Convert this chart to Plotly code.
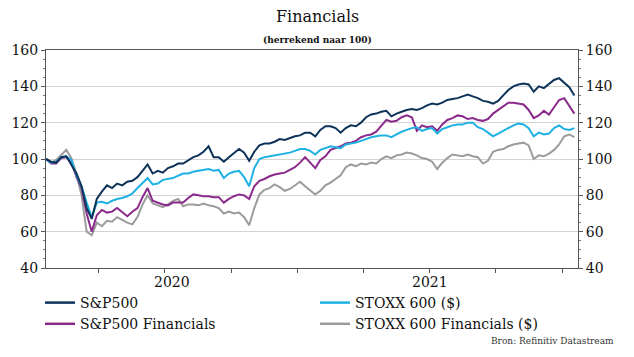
import pandas as pd
import plotly.graph_objects as go

dates = list(pd.date_range("2020-01-20", periods=104, freq="7D")) + [pd.Timestamp("2022-01-17")]

sp500 = [100, 98.5, 98, 101, 101.5, 97, 92, 85, 73, 67,
         78, 82, 85.5, 84, 86.5, 85.5, 87.5, 88, 90, 93.5,
         97, 92, 93.5, 92.5, 95, 96, 97.5, 97.5, 99.5, 101,
         102, 104, 107, 101, 101, 98.5, 101, 103, 105.5, 103.5,
         99, 104, 107.5, 108.5, 108.5, 109.5, 111, 110.5, 111.5, 112.5,
         113, 114.5, 114.5, 112.5, 116, 118, 118, 117, 114.5, 117,
         118.5, 118, 120, 123, 124.5, 125, 126, 126.5, 123.5, 125,
         126, 127, 127.5, 127, 128, 129.5, 130.5, 130, 131, 132.5,
         133, 133.5, 134.5, 135.5, 134.5, 133.5, 132, 131.5, 130.5, 132,
         135, 138, 140, 141, 141.5, 141, 137, 140, 139, 141.5,
         143.5, 144.5, 142, 139.5, 135]

stoxx600 = [100, 98, 98.5, 101, 101.5, 99.5, 91, 85, 76, 68,
            76, 76.5, 75.5, 77, 78, 78.5, 79.5, 81, 84, 86.5,
            89.5, 86, 86.5, 88.5, 89, 89.5, 90.8, 92, 92, 93,
            93.5, 94, 94.5, 93.5, 94, 89.5, 92, 93, 93.5, 90,
            85, 95, 100, 101, 101.5, 102, 102.5, 103, 103.5, 104.5,
            105.5, 105.5, 104.5, 102.5, 105, 106, 107, 106.5, 106, 108,
            108.5, 109, 110, 111, 112, 112.5, 113, 113, 112, 113.5,
            115, 116, 117, 117.5, 115.5, 116.5, 117, 114, 116.5, 117.5,
            118.5, 119, 119, 120, 120, 117.5, 116.5, 114.5, 112.5, 114,
            115.5, 117, 118.5, 119.5, 119, 117, 112.5, 114.5, 113.5, 114,
            117, 118.5, 116.5, 116, 117]

sp500_fin = [100, 97.5, 97.5, 100.5, 101, 98, 90, 84, 70, 60,
             69, 72, 70.5, 71, 73, 70.5, 68.5, 71, 73, 79,
             84, 77, 76, 75, 74.5, 76, 76, 76, 78.5, 80.5,
             80, 79.5, 79.5, 79, 79, 76, 78, 79.5, 80.5, 80,
             78, 85, 88, 89, 90.5, 91.5, 92, 92.5, 94, 95.5,
             98, 101, 98, 95, 99.5, 101.5, 105, 106, 107, 108.5,
             109, 110, 112, 113, 113.5, 115, 118, 121.5, 120.5, 121,
             123, 124, 123, 115.5, 118.5, 117.5, 118, 115.5, 119, 121.5,
             122.5, 124, 123.5, 122, 122.5, 121.5, 121, 122, 125, 127,
             129.5, 131, 131, 130.5, 130, 127, 122.5, 124, 126.5, 124.5,
             128.5, 132.5, 133.5, 129.5, 125]

stoxx600_fin = [100, 98, 99.5, 102.5, 105, 100.5, 91.5, 80, 60, 58,
                65, 63, 66, 65.5, 68, 66.5, 65, 64, 68, 75,
                80, 75.5, 74.5, 73.5, 75, 77, 78, 74, 75, 75,
                74.5, 75.5, 74.5, 74, 73, 70, 71, 70, 70.5, 68,
                63.5, 73, 80.5, 83, 84, 86, 84.5, 82.5, 83.5, 85.5,
                87.5, 85, 83, 80.5, 82.5, 85.5, 87, 89, 91, 95.5,
                97, 96, 97.5, 97, 98, 97.5, 100, 101.5, 100.5, 102,
                102.5, 103.5, 103, 102, 100.5, 100, 98.5, 94.5, 98, 100.5,
                102.5, 102, 101.5, 102.5, 101.5, 101, 97.5, 99, 104, 105,
                105.5, 107, 108, 108.5, 109, 107.5, 100, 102, 101.5, 103,
                105, 108, 112.5, 113.5, 112]

series = [
    ("S&P500", sp500, "#0d3358"),
    ("STOXX 600 ($)", stoxx600, "#1eb1e3"),
    ("S&P500 Financials", sp500_fin, "#8a2a8a"),
    ("STOXX 600 Financials ($)", stoxx600_fin, "#9b9b9b"),
]
draw_order = [3, 2, 1, 0]

year_labels = ["2020", "2021"]
year_label_pos = ["2020-07-11", "2021-07-02"]
quarter_ticks = ["2020-04-01", "2020-07-01", "2020-10-01", "2021-01-01",
                 "2021-04-01", "2021-07-01", "2021-10-01", "2022-01-01"]

FONT = "DejaVu Serif"
# page has an 8px body margin; size the figure so the plot lands where the reference has it
W, H = 626, 349
ML, MT = 38, 42
PW, PH = 532, 218
MR, MB = W - ML - PW, H - MT - PH


def px_x(px):
    """reference-page x pixel -> paper fraction"""
    return (px - 8 - ML) / PW


def px_y(py):
    """reference-page y pixel -> paper fraction"""
    return (MT + PH - (py - 8)) / PH


fig = go.Figure()
for name, vals, col in series:
    fig.add_trace(go.Scatter(x=[None], y=[None], mode="lines", name=name,
                             line=dict(color=col, width=2.5), showlegend=True))
for i in draw_order:
    name, vals, col = series[i]
    fig.add_trace(go.Scatter(x=dates, y=vals, mode="lines", name=name,
                             line=dict(color=col, width=2), showlegend=False,
                             hoverinfo="skip"))
fig.add_trace(go.Scatter(x=[dates[0]], y=[100], yaxis="y2", mode="lines",
                         showlegend=False, line=dict(width=0), hoverinfo="skip"))

fig.update_layout(
    width=W, height=H,
    margin=dict(l=ML, r=MR, t=MT, b=MB, autoexpand=False),
    paper_bgcolor="white", plot_bgcolor="white",
    font=dict(family=FONT, color="#1a1a1a", size=13),
    showlegend=True,
    legend=dict(orientation="h", x=px_x(40), xanchor="left", y=px_y(287), yanchor="top",
                entrywidth=230, entrywidthmode="pixels",
                font=dict(size=14, family=FONT, color="#111"),
                itemwidth=30, tracegroupgap=0, bgcolor="rgba(0,0,0,0)"),
    xaxis=dict(type="date", range=["2020-01-20", "2022-01-22"],
               tickvals=quarter_ticks, ticktext=[""] * len(quarter_ticks),
               ticks="outside", ticklen=4, tickcolor="#555", tickwidth=1,
               showgrid=False, showline=True, linecolor="#555", linewidth=1,
               mirror=True, zeroline=False),
    yaxis=dict(range=[40, 160], tickvals=[40, 60, 80, 100, 120, 140, 160],
               ticks="outside", ticklen=4, tickcolor="#555",
               showgrid=True, gridcolor="#d4d4d4", gridwidth=1,
               showline=True, linecolor="#555", linewidth=1, zeroline=False,
               tickfont=dict(size=14, family=FONT, color="#111"),
               minor=dict(dtick=5, ticks="outside", ticklen=2, tickcolor="#777", showgrid=False)),
    yaxis2=dict(range=[40, 160], tickvals=[40, 60, 80, 100, 120, 140, 160],
                overlaying="y", side="right", ticks="outside", ticklen=4,
                tickcolor="#555", showgrid=False, showline=True, linecolor="#555",
                linewidth=1, zeroline=False,
                tickfont=dict(size=14, family=FONT, color="#111"),
                minor=dict(dtick=5, ticks="outside", ticklen=2, tickcolor="#777")),
)

for lab, pos in zip(year_labels, year_label_pos):
    fig.add_annotation(x=pos, xref="x", y=px_y(282), yref="paper", yanchor="middle",
                       text=lab, showarrow=False,
                       font=dict(size=14, family=FONT, color="#111"))

fig.add_annotation(x=px_x(317), y=px_y(17), xref="paper", yref="paper",
                   text="Financials", showarrow=False, yanchor="middle",
                   font=dict(size=16, family=FONT, color="#111"))
fig.add_annotation(x=px_x(317), y=px_y(40), xref="paper", yref="paper",
                   text="<b>(herrekend naar 100)</b>", showarrow=False, yanchor="middle",
                   font=dict(size=9, family=FONT, color="#111"))
fig.add_annotation(x=px_x(616), y=px_y(341), xref="paper", yref="paper",
                   text="Bron: Refinitiv Datastream", showarrow=False,
                   xanchor="right", yanchor="middle",
                   font=dict(size=9, family=FONT, color="#333"))

fig.write_html("out.html")
